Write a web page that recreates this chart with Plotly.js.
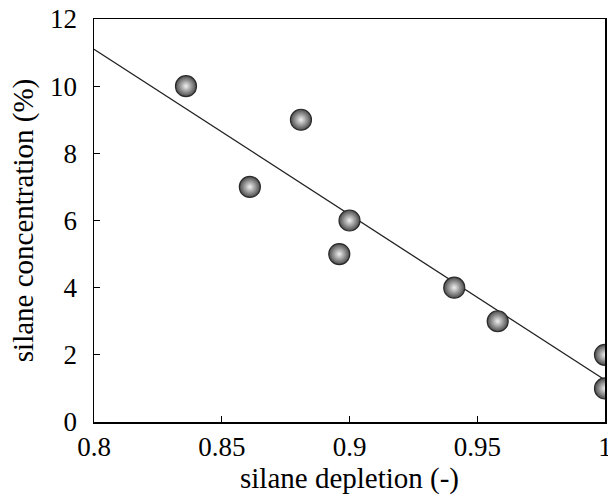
<!DOCTYPE html>
<html>
<head>
<meta charset="utf-8">
<script src="https://cdn.plot.ly/plotly-3.0.1.min.js"></script>
<style>html,body{margin:0;padding:0;background:#fff;}#chart{width:608px;height:496px;}</style>
</head>
<body>
<div id="chart"></div>
<script>
// Measured points
const depletion = [0.836, 0.861, 0.881, 0.896, 0.900, 0.941, 0.958, 1.000, 1.000];
const concentration = [10, 7, 9, 5, 6, 4, 3, 2, 1];
// Fitted line endpoints
const fitX = [0.8, 1.0];
const fitY = [11.1, 1.25];
const xTicks = [0.8, 0.85, 0.9, 0.95, 1];
const xTickText = ['0.8', '0.85', '0.9', '0.95', '1'];
const yTicks = [0, 2, 4, 6, 8, 10, 12];

const font = {family: 'Liberation Serif, Times New Roman, Times, serif', color: '#000'};

const traces = [
  {x: fitX, y: fitY, mode: 'lines', type: 'scatter',
   line: {color: '#222', width: 1.3}, hoverinfo: 'skip', showlegend: false},
  {x: depletion, y: concentration, mode: 'markers', type: 'scatter',
   cliponaxis: true, showlegend: false,
   marker: {size: 21, color: '#4a4a4a',
            gradient: {type: 'radial', color: '#f0f0f0'},
            line: {color: '#2a2a2a', width: 1.2}}}
];

const layout = {
  width: 608, height: 496,
  margin: {l: 94, r: 3, t: 19, b: 74},
  paper_bgcolor: '#fff', plot_bgcolor: '#fff',
  font: Object.assign({size: 27}, font),
  showlegend: false,
  xaxis: {range: [0.8, 1.0], tickvals: xTicks, ticktext: xTickText,
          ticks: 'inside', ticklen: 6, tickwidth: 1.2, tickcolor: '#000',
          showline: true, linecolor: '#000', linewidth: 1.5, mirror: true,
          showgrid: false, zeroline: false, ticklabeloverflow: 'allow',
          tickfont: Object.assign({size: 27}, font),
          title: {text: 'silane depletion (-)', font: Object.assign({size: 29}, font), standoff: 2}},
  yaxis: {range: [0, 12], tickvals: yTicks,
          ticks: 'inside', ticklen: 6, tickwidth: 1.2, tickcolor: '#000',
          showline: true, linecolor: '#000', linewidth: 1.5, mirror: true,
          showgrid: false, zeroline: false, ticklabelstandoff: 10,
          tickfont: Object.assign({size: 27}, font),
          title: {text: 'silane concentration (%)', font: Object.assign({size: 29}, font), standoff: 8}}
};

Plotly.newPlot('chart', traces, layout, {staticPlot: true, displayModeBar: false});
</script>
</body>
</html>
